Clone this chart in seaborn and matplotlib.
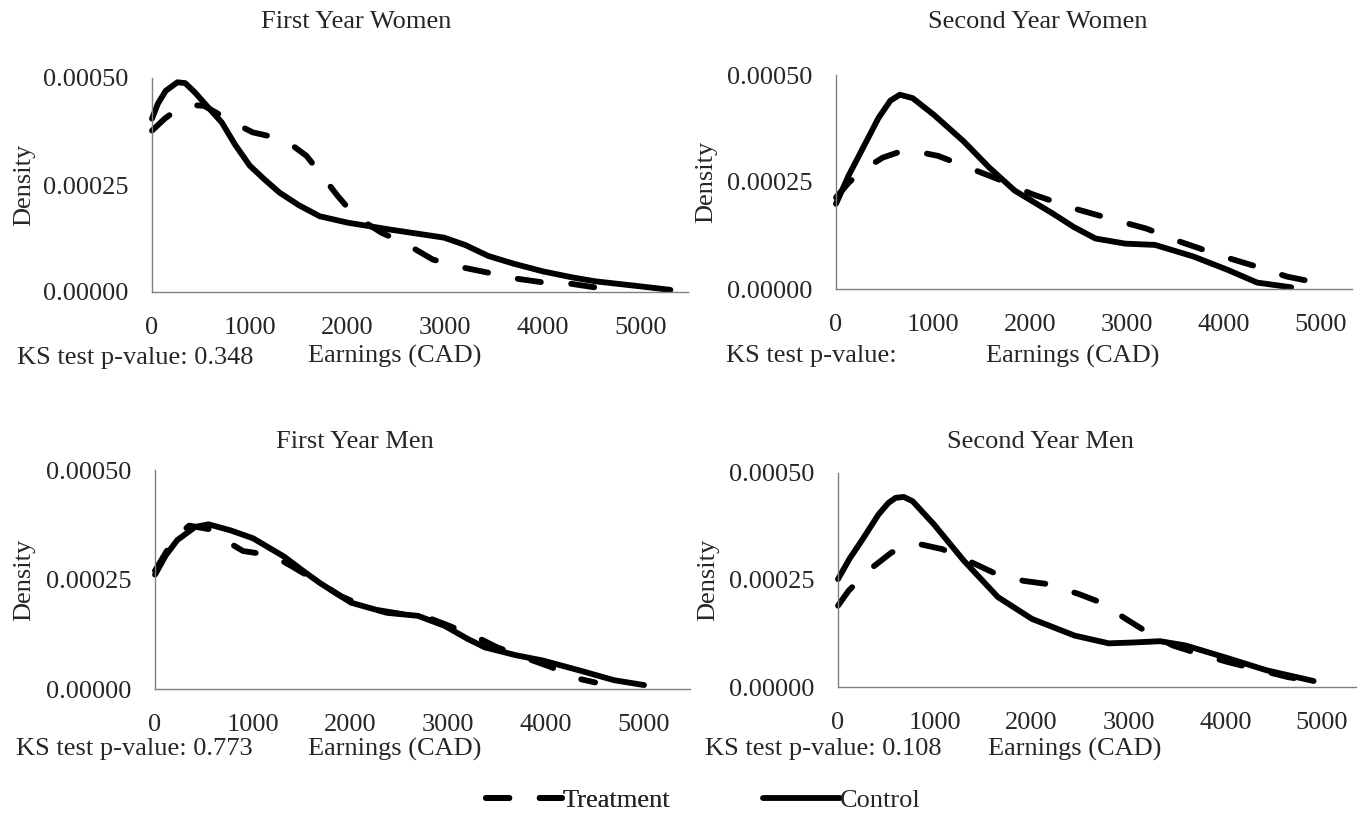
import matplotlib
matplotlib.use("Agg")
import matplotlib.pyplot as plt
from matplotlib.lines import Line2D
import numpy as np
import pandas as pd
import seaborn as sns

sns.set_style("white")
plt.rcParams["font.family"] = ["Liberation Serif", "DejaVu Serif"]
plt.rcParams["lines.dash_capstyle"] = "round"
plt.rcParams["lines.solid_capstyle"] = "round"
plt.rcParams["lines.solid_joinstyle"] = "round"
plt.rcParams["lines.dash_joinstyle"] = "round"

# First Year Women
fyw_x_treat = [0, 130, 260, 400, 530, 650, 760, 1030, 1260, 1450, 1580, 1714, 1900, 2077, 2350, 2577, 2870, 3120, 3440, 3670, 3980, 4260, 4580, 4800]
fyw_treat = [0.000377, 0.000405, 0.000427, 0.000437, 0.000435, 0.000420, 0.000404, 0.000373, 0.000361, 0.000340, 0.000318, 0.000279, 0.000224, 0.000177,
             0.000138, 0.000115, 0.000076, 0.000060, 0.000045, 0.000033, 0.000023, 0.000020, 0.000009, 0.000005]
fyw_x_ctrl = [0, 60, 140, 260, 340, 440, 560, 714, 850, 1000, 1150, 1305, 1500, 1714, 2000, 2430, 2986, 3200, 3440, 3700, 4000, 4300, 4530, 5000, 5300]
fyw_ctrl = [0.000405, 0.000440, 0.000470, 0.000490, 0.000488, 0.000466, 0.000435, 0.000396, 0.000344, 0.000295, 0.000263, 0.000232, 0.000203, 0.000177, 0.000162, 0.000146,
            0.000127, 0.000110, 0.000084, 0.000066, 0.000048, 0.000034, 0.000025, 0.000013, 0.000005]

# Second Year Women
syw_x_treat = [0, 130, 263, 482, 650, 790, 1053, 1360, 1667, 2018, 2456, 2895, 3202, 3553, 3991, 4342, 4649, 4890]
syw_treat = [0.000214, 0.000248, 0.000276, 0.000307, 0.000320, 0.000323, 0.000311, 0.000284, 0.000257, 0.000222, 0.000188, 0.000160,
             0.000141, 0.000110, 0.000076, 0.000052, 0.000029, 0.000018]
syw_x_ctrl = [0, 130, 263, 439, 560, 658, 790, 1009, 1316, 1579, 1842, 2237, 2450, 2675, 2982, 3289, 3684, 4035, 4342, 4693]
syw_ctrl = [0.000199, 0.000265, 0.000323, 0.000400, 0.000440, 0.000454, 0.000446, 0.000407, 0.000345, 0.000284, 0.000230, 0.000176,
            0.000145, 0.000118, 0.000106, 0.000103, 0.000076, 0.000045, 0.000015, 0.000004]

# First Year Men
fym_x_treat = [0, 200, 350, 550, 750, 900, 1200, 1400, 1700, 1900, 2200, 2500, 2800, 3000, 3300, 3500, 3800, 4050, 4300, 4500]
fym_treat = [0.000270, 0.000345, 0.000373, 0.000365, 0.000335, 0.000315, 0.000305, 0.000280, 0.000240, 0.000212,
             0.000183, 0.000172, 0.000162, 0.000145, 0.000117, 0.000095, 0.000070, 0.000050, 0.000025, 0.000015]
fym_x_ctrl = [0, 110, 228, 410, 547, 775, 1003, 1322, 1500, 1686, 2005, 2370, 2689, 2963, 3200, 3373, 3692, 3966, 4330, 4695, 5000]
fym_ctrl = [0.000261, 0.000305, 0.000340, 0.000370, 0.000376, 0.000362, 0.000344, 0.000302, 0.000272, 0.000242, 0.000197, 0.000174,
            0.000167, 0.000144, 0.000114, 0.000095, 0.000077, 0.000065, 0.000043, 0.000020, 0.000009]

# Second Year Men
sym_x_treat = [0, 110, 330, 551, 700, 859, 1079, 1344, 1608, 1916, 2181, 2489, 2709, 2974, 3194, 3458, 3722, 4031, 4295, 4648, 4912]
sym_treat = [0.000190, 0.000225, 0.000275, 0.000314, 0.000328, 0.000333, 0.000322, 0.000295, 0.000267, 0.000248, 0.000240,
             0.000217, 0.000198, 0.000159, 0.000128, 0.000097, 0.000078, 0.000058, 0.000043, 0.000023, 0.000014]
sym_x_ctrl = [0, 120, 242, 418, 520, 595, 680, 771, 991, 1300, 1652, 2004, 2445, 2797, 3050, 3326, 3590, 3987, 4427, 4912]
sym_ctrl = [0.000252, 0.000300, 0.000341, 0.000403, 0.000430, 0.000442, 0.000444, 0.000434, 0.000380, 0.000295, 0.000210, 0.000159, 0.000120,
            0.000102, 0.000104, 0.000107, 0.000097, 0.000070, 0.000039, 0.000014]

titles = ["First Year Women", "Second Year Women", "First Year Men", "Second Year Men"]
ks_labels = ["KS test p-value: 0.348", "KS test p-value:", "KS test p-value: 0.773", "KS test p-value: 0.108"]
groups = ["Treatment", "Control"]

panels = [
    (fyw_x_treat, fyw_treat, fyw_x_ctrl, fyw_ctrl),
    (syw_x_treat, syw_treat, syw_x_ctrl, syw_ctrl),
    (fym_x_treat, fym_treat, fym_x_ctrl, fym_ctrl),
    (sym_x_treat, sym_treat, sym_x_ctrl, sym_ctrl),
]

W, H = 1358, 814
# axes boxes in pixels: left, right, top, bottom
boxes = [(152, 688, 78, 292), (836, 1352, 75, 289), (155, 690, 470, 689), (838, 1356, 473, 687)]
xmax = [5480, 5320, 5470, 5350]
title_pos = [(356, 22), (1038, 22), (355, 442), (1040, 442)]
ks_pos = [(17, 358), (726, 356), (16, 749), (705, 749)]
earn_pos = [(395, 356), (1073, 356), (395, 749), (1075, 749)]
dens_x = [24, 706, 24, 708]

fs = 19
fig = plt.figure(figsize=(W / 100, H / 100), dpi=100)
fig.patch.set_facecolor("white")

for i, (xt, yt, xc, yc) in enumerate(panels):
    l, r, t, b = boxes[i]
    ax = fig.add_axes([l / W, 1 - b / H, (r - l) / W, (b - t) / H])
    df = pd.concat([
        pd.DataFrame({"Earnings": xt, "Density": yt, "group": "Treatment"}),
        pd.DataFrame({"Earnings": xc, "Density": yc, "group": "Control"}),
    ])
    sns.lineplot(data=df, x="Earnings", y="Density", style="group", style_order=groups,
                 dashes={"Treatment": (4, 5.2), "Control": ""}, color="black", linewidth=4.2,
                 estimator=None, ax=ax, legend=False)
    for ln in ax.lines:
        ln.set_clip_on(False)
    ax.set_xlim(0, xmax[i])
    ax.set_ylim(0, 0.0005)
    ax.set_xticks([0, 1000, 2000, 3000, 4000, 5000])
    ax.set_yticks([0, 0.00025, 0.0005])
    ax.set_yticklabels(["0.00000", "0.00025", "0.00050"])
    ax.tick_params(axis="both", labelsize=fs, direction="out", length=5.8, width=1, color="#808080")
    ax.tick_params(axis="x", pad=12)
    ax.tick_params(axis="y", pad=11)
    for s in ["top", "right"]:
        ax.spines[s].set_visible(False)
    for s in ["left", "bottom"]:
        ax.spines[s].set_color("#808080")
        ax.spines[s].set_linewidth(1)
    ax.set_xlabel("")
    ax.set_ylabel("")
    ax.patch.set_alpha(0)

    fig.text(title_pos[i][0] / W, 1 - title_pos[i][1] / H, titles[i], fontsize=fs, ha="center", va="center")
    fig.text(ks_pos[i][0] / W, 1 - ks_pos[i][1] / H, ks_labels[i], fontsize=fs, ha="left", va="center")
    fig.text(earn_pos[i][0] / W, 1 - earn_pos[i][1] / H, "Earnings (CAD)", fontsize=fs, ha="center", va="center")
    fig.text(dens_x[i] / W, 1 - ((t + b) / 2) / H, "Density", fontsize=fs, rotation=90, ha="center", va="center")

h_treat = Line2D([], [], color="black", linewidth=4.2, dashes=(4, 5.2))
h_ctrl = Line2D([], [], color="black", linewidth=4.2)
leg1 = fig.legend([h_treat], ["Treatment"], loc="center", bbox_to_anchor=(578 / W, 1 - 800 / H),
                  frameon=False, fontsize=fs, handlelength=2.9, handletextpad=0.0)
fig.add_artist(leg1)
fig.legend([h_ctrl], ["Control"], loc="center", bbox_to_anchor=(842 / W, 1 - 800 / H),
           frameon=False, fontsize=fs, handlelength=2.9, handletextpad=0.0)

fig.savefig("out.png", dpi=100, facecolor="white")
